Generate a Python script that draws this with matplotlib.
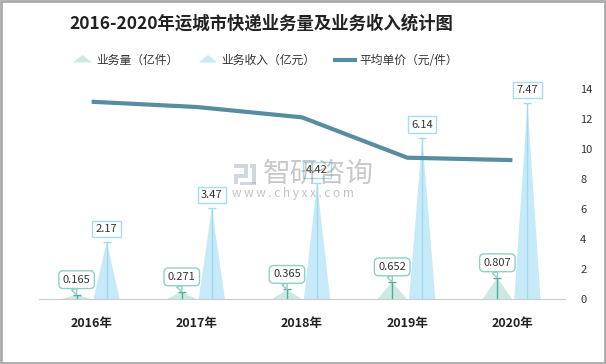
import matplotlib
matplotlib.use("Agg")
import matplotlib.pyplot as plt
from matplotlib.patches import Polygon, Rectangle, FancyBboxPatch

plt.rcParams['font.family'] = ['Noto Sans CJK SC', 'DejaVu Sans']

years = ['2016年', '2017年', '2018年', '2019年', '2020年']
volume = [0.165, 0.271, 0.365, 0.652, 0.807]       # 亿件
revenue = [2.17, 3.47, 4.42, 6.14, 7.47]           # 亿元
price = [13.15, 12.80, 12.11, 9.42, 9.26]          # 元/件
right_ticks = [0, 2, 4, 6, 8, 10, 12, 14]

title = '2016-2020年运城市快递业务量及业务收入统计图'
legend_labels = ['业务量（亿件）', '业务收入（亿元）', '平均单价（元/件）']

W, H = 606, 364
fig = plt.figure(figsize=(W / 100, H / 100), dpi=100)

vol_fill, vol_line, vol_box = '#cde9e4', '#52ab9f', '#8fd0c6'
rev_fill, rev_line, rev_box = '#c6eaf8', '#a0daf0', '#a8dcf0'
price_col = '#588ca0'
txt = '#333333'

ax = fig.add_axes([39 / W, 1 - 299 / H, (565 - 39) / W, (299 - 89) / H])
ax2 = ax.twinx()

off, wv, wr = 0.143, 0.28, 0.25
xs = list(range(len(years)))
for i in xs:
    xv, xr = i - off, i + off
    ax.add_patch(Polygon([(xv - wv / 2, 0), (xv, volume[i]), (xv + wv / 2, 0)],
                         closed=True, fc=vol_fill, ec='none', zorder=2))
    ax.add_patch(Polygon([(xr - wr / 2, 0), (xr, revenue[i]), (xr + wr / 2, 0)],
                         closed=True, fc=rev_fill, ec='none', zorder=2))
    ax.vlines(xv, 0, volume[i], color=vol_line, lw=1, zorder=3)
    ax.vlines(xr, 0, revenue[i], color=rev_line, lw=1, zorder=3)
ax.plot([x - off for x in xs], volume, ls='none', marker='_', ms=6, mew=1, color=vol_line, zorder=3)
ax.plot([x + off for x in xs], revenue, ls='none', marker='_', ms=6, mew=1, color=rev_line, zorder=3)

ax.set_xlim(-0.5, 4.5)
ax.set_ylim(0, 8)
ax.set_xticks(xs)
ax.set_xticklabels(years, fontsize=9, fontweight='bold', color='#222222')
ax.tick_params(axis='x', length=0, pad=13)
ax.tick_params(axis='y', left=False, labelleft=False)
for s in ['top', 'left', 'right']:
    ax.spines[s].set_visible(False)
ax.spines['bottom'].set_color('#cccccc')

ax2.plot(xs, price, color=price_col, lw=3, zorder=5, solid_capstyle='butt')
ax2.set_ylim(0, 14)
ax2.set_yticks(right_ticks)
ax2.set_yticklabels([str(t) for t in right_ticks], fontsize=8, color=txt)
ax2.tick_params(axis='y', length=0, pad=11)
for s in ['top', 'left', 'right', 'bottom']:
    ax2.spines[s].set_visible(False)

for i in xs:
    ax2.annotate(f'{revenue[i]:.2f}', xy=(i + off, revenue[i]), xycoords=ax.transData,
                 xytext=(0, 13), textcoords='offset pixels', ha='center', va='center',
                 fontsize=8, color=txt, zorder=8,
                 bbox=dict(boxstyle='square,pad=0.3', fc='white', ec=rev_box, lw=1))
    ax2.annotate(f'{volume[i]:g}', xy=(i - off, volume[i]), xycoords=ax.transData,
                 xytext=(0, 15), textcoords='offset pixels', ha='center', va='center',
                 fontsize=8, color=txt, zorder=8,
                 bbox=dict(boxstyle='round,pad=0.35,rounding_size=0.4', fc='white', ec=vol_box, lw=1),
                 arrowprops=dict(arrowstyle='wedge,tail_width=0.5', fc='white', ec=vol_box,
                                 lw=1, shrinkA=0, shrinkB=0, relpos=(0.35, 0)))

# overlay in pixel coordinates for title, legend, watermark, border
ov = fig.add_axes([0, 0, 1, 1], zorder=10)
ov.set_xlim(0, W)
ov.set_ylim(H, 0)
ov.axis('off')
ov.patch.set_alpha(0)

ov.text(261, 24, title, ha='center', va='center', fontsize=12.5, fontweight='bold', color='#222222')

ly = 60
ov.add_patch(Polygon([(73, 62.5), (82.5, 55), (92, 62.5)], closed=True, fc=vol_fill, ec='none'))
ov.text(96, ly, legend_labels[0], ha='left', va='center', fontsize=8.5, color=txt)
ov.add_patch(Polygon([(199, 62.5), (208, 55), (217, 62.5)], closed=True, fc=rev_fill, ec='none'))
ov.text(221, ly, legend_labels[1], ha='left', va='center', fontsize=8.5, color=txt)
ov.plot([333, 357], [59.5, 59.5], color=price_col, lw=3, solid_capstyle='butt')
ov.text(359, ly, legend_labels[2], ha='left', va='center', fontsize=8.5, color=txt)

# watermark
wm = '#9aa7bd'
for (x0, y0, w, h) in [(234, 164, 10, 4), (244, 164, 4, 10), (234, 174, 14, 4), (234, 178, 4, 6),
                       (250, 164, 6, 4), (252, 168, 4, 16), (240, 182, 16, 3)]:
    ov.add_patch(Rectangle((x0, y0), w, h, fc=wm, ec='none', alpha=0.45))
ov.text(263, 174, '智研咨询', ha='left', va='center', fontsize=20, color='#888888', alpha=0.45)
ov.text(232, 193, 'w w w . c h y x x . c o m', ha='left', va='center', fontsize=8.5,
        color='#888888', alpha=0.5)

ov.add_patch(Rectangle((1, 1), W - 2, H - 2, fill=False, ec='#aaaaaa', lw=2))

fig.savefig('out.png', dpi=100)
